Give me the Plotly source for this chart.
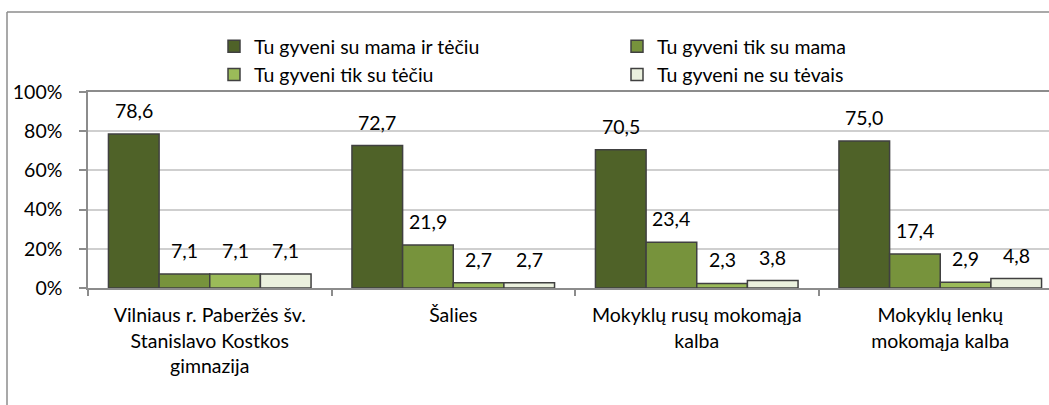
import plotly.graph_objects as go

# Survey shares (%) by school group and family situation
categories = [
    "Vilniaus r. Paberžės šv.<br>Stanislavo Kostkos<br>gimnazija",
    "Šalies",
    "Mokyklų rusų mokomąja<br>kalba",
    "Mokyklų lenkų<br>mokomąja kalba",
]
series_names = [
    "Tu gyveni su mama ir tėčiu",
    "Tu gyveni tik su mama",
    "Tu gyveni tik su tėčiu",
    "Tu gyveni ne su tėvais",
]
su_mama_ir_teciu = [78.6, 72.7, 70.5, 75.0]
tik_su_mama = [7.1, 21.9, 23.4, 17.4]
tik_su_teciu = [7.1, 2.7, 2.3, 2.9]
ne_su_tevais = [7.1, 2.7, 3.8, 4.8]
y_ticks = [0, 20, 40, 60, 80, 100]

series_values = [su_mama_ir_teciu, tik_su_mama, tik_su_teciu, ne_su_tevais]
colors = ["#4f6228", "#77933c", "#9bbb59", "#ebf1de"]

FONT = "Lato"
FS = 19.5
W, H = 1049, 405
M_L, M_R, M_T, M_B = 88, 0, 92, 117
plot_w = W - M_L - M_R
plot_h = H - M_T - M_B
cat_px = 243.5
bargap = 0.168

fig = go.Figure()
for name, vals, col in zip(series_names, series_values, colors):
    fig.add_trace(go.Bar(
        name=name,
        x=categories,
        y=vals,
        marker=dict(color=col, line=dict(color="#404040", width=1.5)),
    ))

# value labels above each bar, positioned from the grouped-bar offsets
n = len(series_values)
bar_w = (1 - bargap) / n
for i, vals in enumerate(series_values):
    for ci, v in enumerate(vals):
        fig.add_annotation(
            x=ci + (i - (n - 1) / 2) * bar_w,
            y=v,
            text=f"{v:.1f}".replace(".", ","),
            showarrow=False,
            yanchor="bottom",
            yshift=10,
            font=dict(family=FONT, size=FS, color="#000000"),
        )

x_end = -0.5 + plot_w / cat_px

# outer chart frame (left and top edges)
fx0 = (7 - M_L) / plot_w
fy0 = (H - M_B - 12) / plot_h
fig.add_shape(type="line", xref="paper", yref="paper", x0=fx0, x1=(W - M_L) / plot_w + 0.01,
              y0=fy0, y1=fy0, line=dict(color="#8c8c8c", width=1.5))
fig.add_shape(type="line", xref="paper", yref="paper", x0=fx0, x1=fx0,
              y0=fy0, y1=-M_B / plot_h - 0.05, line=dict(color="#8c8c8c", width=1.5))

fig.update_layout(
    width=W, height=H,
    margin=dict(l=M_L, r=M_R, t=M_T, b=M_B),
    paper_bgcolor="white", plot_bgcolor="white",
    barmode="group", bargap=bargap, bargroupgap=0,
    font=dict(family=FONT, size=FS, color="#000000"),
    showlegend=True,
    legend=dict(
        orientation="h",
        x=(214 - M_L) / plot_w, xanchor="left",
        y=(H - M_B - 27) / plot_h, yanchor="top",
        entrywidth=358, entrywidthmode="pixels",
        font=dict(family=FONT, size=FS),
        tracegroupgap=0, itemwidth=30,
        bgcolor="rgba(0,0,0,0)",
    ),
    xaxis=dict(
        type="category",
        range=[-0.5, x_end],
        tickson="boundaries",
        ticks="outside", ticklen=6, tickcolor="#8c8c8c", tickwidth=1.5,
        showgrid=False, zeroline=False,
        showline=True, linecolor="#8c8c8c", linewidth=1.5, mirror=True,
        tickfont=dict(family=FONT, size=FS),
        ticklabelstandoff=9,
        fixedrange=True,
    ),
    yaxis=dict(
        range=[0, 100], tickmode="array", tickvals=y_ticks,
        ticktext=[f"{t}%" for t in y_ticks],
        showgrid=True, gridcolor="#cfcfcf", gridwidth=1.5,
        zeroline=False,
        showline=True, linecolor="#8c8c8c", linewidth=1.5,
        ticks="outside", ticklen=7, tickcolor="#8c8c8c", tickwidth=1.5,
        ticklabelstandoff=13,
        tickfont=dict(family=FONT, size=FS),
    ),
)

fig.write_html("out.html")
